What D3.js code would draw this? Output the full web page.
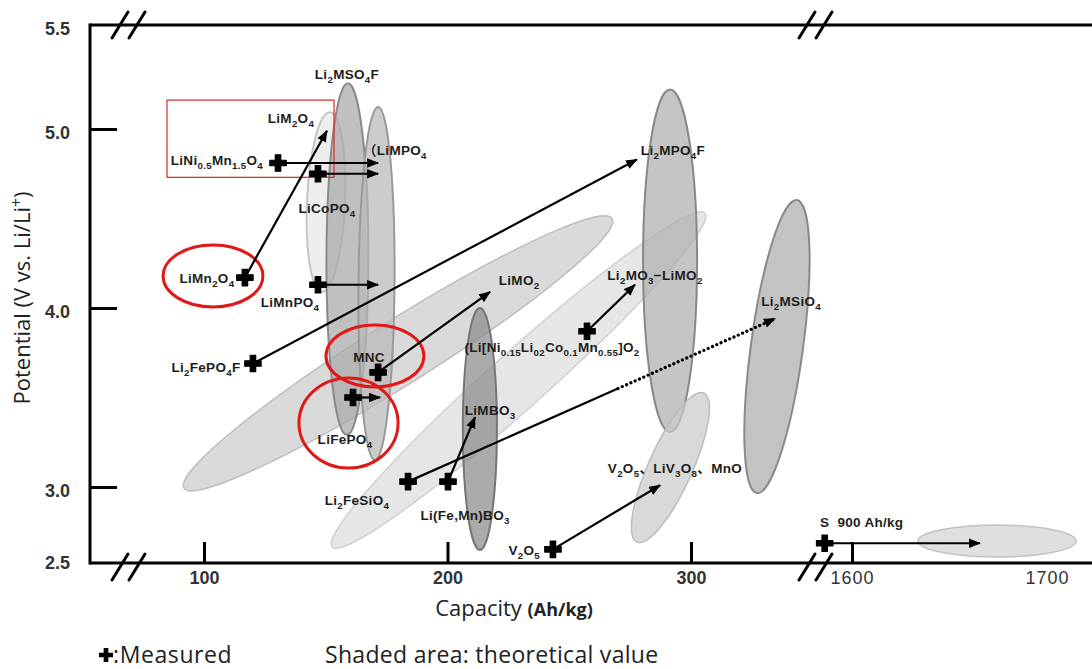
<!DOCTYPE html>
<html><head><meta charset="utf-8">
<script src="https://cdn.jsdelivr.net/npm/d3@7"></script>
<style>
html,body{margin:0;padding:0;background:#fff;}
svg{display:block;}
</style></head><body>
<svg id="chart" width="1092" height="669"></svg>
<script>
// ================= DATA =================
const yTicks = [2.5, 3.0, 4.0, 5.0, 5.5];
const xTicksLow = [100, 200, 300];
const xTicksHigh = [1600, 1700];

// theoretical ranges (shaded areas): major axis end points (capacity Ah/kg, potential V) and half width (Ah/kg)
const shadeNames    = ["LiMO2", "Li2MO3-LiMO2", "LiM2O4", "Li2MSO4F", "LiMPO4", "LiMBO3", "Li2MPO4F", "V2O5-LiV3O8-MnO", "Li2MSiO4", "S"];
const shadeCapA     = [91.8, 152.6, 151.7, 159.1, 171.5, 213.3, 291.4, 277.8, 343.5, 1633.8];
const shadeVoltA    = [2.993, 2.605, 5.08, 5.22, 5.106, 4.00, 5.19, 2.638, 4.603, 2.645];
const shadeCapB     = [267.6, 305.7, 148.5, 158.7, 170.2, 213.3, 291.4, 305.3, 327.1, 1714.9];
const shadeVoltB    = [4.50, 4.53, 4.09, 3.29, 3.15, 2.586, 3.307, 3.525, 2.96, 2.645];
const shadeHalfWidth= [13.1, 11.5, 7.8, 8.6, 7.4, 7.0, 11.1, 9.0, 10.7, 8.2];

// measured values and arrows toward expected values
const measuredNames = ["LiNi0.5Mn1.5O4", "LiCoPO4", "LiMn2O4", "LiMnPO4", "Li2FePO4F", "MNC", "LiFePO4", "Li2FeSiO4", "Li(Fe,Mn)BO3", "V2O5", "Li[Ni0.15Li0.2Co0.1Mn0.55]O2", "S"];
const measuredCap   = [130.4, 146.8, 116.8, 146.8, 120.1, 171.5, 161.2, 183.8, 200.2, 243.3, 257.3, 1586.0];
const measuredVolt  = [4.81, 4.75, 4.17, 4.13, 3.69, 3.64, 3.50, 3.03, 3.03, 2.59, 3.87, 2.63];
const expectedCap   = [171.5, 171.5, 150.5, 171.5, 277.8, 217.5, 172.3, 334.5, 211.3, 287.3, 277.0, 1665.6];
const expectedVolt  = [4.81, 4.75, 4.99, 4.13, 4.83, 4.09, 3.50, 3.94, 3.39, 3.01, 4.13, 2.63];
const dottedFromCap = [null, null, null, null, null, null, null, 270.0, null, null, null, null];
const dottedFromVolt= [null, null, null, null, null, null, null, 3.55, null, null, null, null];

// text labels: {..} = subscript, ^{..} = superscript
const labelTexts = ["Li{2}MSO{4}F", "LiM{2}O{4}", "LiNi{0.5}Mn{1.5}O{4}", "（LiMPO{4}", "LiCoPO{4}", "LiMn{2}O{4}", "LiMnPO{4}",
  "Li{2}FePO{4}F", "MNC", "LiFePO{4}", "LiMO{2}", "Li{2}MPO{4}F", "Li{2}MO{3}−LiMO{2}", "(Li[Ni{0.15}Li{02}Co{0.1}Mn{0.55}]O{2}",
  "Li{2}MSiO{4}", "LiMBO{3}", "Li{2}FeSiO{4}", "Li(Fe,Mn)BO{3}", "V{2}O{5}", "V{2}O{5}、LiV{3}O{8}、MnO", "S\u00a0\u00a0900 Ah/kg"];
const labelCap  = [158.7, 135.7, 124.2, 165.3, 150.5, 101.2, 135.3, 100.8, 167.8, 157.9, 229.4, 292.6, 285.2, 242.9, 341.1, 217.5, 162.8, 207.2, 238.0, 293.4, 1583.6];
const labelVolt = [5.264, 5.050, 4.827, 4.883, 4.559, 4.168, 4.034, 3.670, 3.726, 3.268, 4.156, 4.883, 4.184, 3.782, 4.039, 3.430, 2.914, 2.816, 2.586, 3.106, 2.770];
const labelAlign= ["middle","middle","end","start","middle","middle","middle","middle","middle","middle","middle","middle","middle","middle","middle","middle","middle","middle","end","middle","start"];

// red highlights (capacity range, potential range)
const highlightNames = ["LiMn2O4", "MNC", "LiFePO4"];
const highlightCap1  = [83.2, 150.1, 139.0];
const highlightCap2  = [124.2, 190.3, 179.7];
const highlightVolt1 = [4.352, 3.905, 3.609];
const highlightVolt2 = [4.006, 3.559, 3.106];
const boxCap  = [84.8, 153.4];
const boxVolt = [5.139, 4.73];

// ================= STYLES =================
const shadeStyle = {
  "LiMO2":          {fill:"#cccccc", stroke:"#bebebe", sw:1.5},
  "Li2MO3-LiMO2":   {fill:"#dddddd", stroke:"#d0d0d0", sw:1.5},
  "LiM2O4":         {fill:"#e8e8e8", stroke:"#c6c6c6", sw:2},
  "Li2MSO4F":       {fill:"#a8a8a8", stroke:"#8a8a8a", sw:2},
  "LiMPO4":         {fill:"#b8b8b8", stroke:"#9a9a9a", sw:2},
  "LiMBO3":         {fill:"#8a8a8a", stroke:"#767676", sw:2},
  "Li2MPO4F":       {fill:"#afafaf", stroke:"#888888", sw:2},
  "V2O5-LiV3O8-MnO":{fill:"#cacaca", stroke:"#bdbdbd", sw:1.5},
  "Li2MSiO4":       {fill:"#acacac", stroke:"#8a8a8a", sw:2},
  "S":              {fill:"#d2d2d2", stroke:"#c2c2c2", sw:1.5}
};

// ================= CHART =================
const svg = d3.select("#chart");
const frameLeft = 90, frameRight = 1092;

const xLow  = d3.scaleLinear().domain([100, 300]).range([204, 691]);
const xHigh = d3.scaleLinear().domain([1600, 1700]).range([852, 1047]);
const y = d3.scaleLinear().domain([2.5, 3, 4, 5, 5.5]).range([563, 487, 308, 129, 25]);
const X = c => c > 1000 ? xHigh(c) : xLow(c);
const pxPerCap = c => c > 1000 ? Math.abs(xHigh(1) - xHigh(0)) : Math.abs(xLow(1) - xLow(0));

const defs = svg.append("defs");
defs.append("marker").attr("id", "ah").attr("markerUnits", "userSpaceOnUse")
  .attr("markerWidth", 13).attr("markerHeight", 10).attr("refX", 11).attr("refY", 4.75)
  .attr("orient", "auto")
  .append("path").attr("d", "M0,0 L12,4.75 L0,9.5 Z").attr("fill", "#000");

// shaded areas
const gShade = svg.append("g");
shadeNames.forEach((n, i) => {
  const x1 = X(shadeCapA[i]), y1 = y(shadeVoltA[i]);
  const x2 = X(shadeCapB[i]), y2 = y(shadeVoltB[i]);
  const cx = (x1 + x2) / 2, cy = (y1 + y2) / 2;
  const rx = Math.hypot(x2 - x1, y2 - y1) / 2;
  const ry = shadeHalfWidth[i] * pxPerCap(shadeCapA[i]);
  const ang = Math.atan2(y2 - y1, x2 - x1) * 180 / Math.PI;
  const st = shadeStyle[n];
  gShade.append("ellipse")
    .attr("cx", cx).attr("cy", cy).attr("rx", rx).attr("ry", ry)
    .attr("transform", `rotate(${ang},${cx},${cy})`)
    .attr("fill", st.fill).attr("fill-opacity", 0.72)
    .attr("stroke", st.stroke).attr("stroke-width", st.sw);
});

// red box
svg.append("rect")
  .attr("x", X(boxCap[0])).attr("y", y(boxVolt[0]))
  .attr("width", X(boxCap[1]) - X(boxCap[0])).attr("height", y(boxVolt[1]) - y(boxVolt[0]))
  .attr("fill", "none").attr("stroke", "#d42a2a").attr("stroke-width", 1.2);

// red highlight ellipses
highlightNames.forEach((n, i) => {
  const xa = X(highlightCap1[i]), xb = X(highlightCap2[i]);
  const ya = y(highlightVolt1[i]), yb = y(highlightVolt2[i]);
  svg.append("ellipse")
    .attr("cx", (xa + xb) / 2).attr("cy", (ya + yb) / 2)
    .attr("rx", Math.abs(xb - xa) / 2).attr("ry", Math.abs(yb - ya) / 2)
    .attr("fill", "none").attr("stroke", "#e01818").attr("stroke-width", 3);
});

// arrows
const gArr = svg.append("g");
measuredNames.forEach((n, i) => {
  const x0 = X(measuredCap[i]), y0 = y(measuredVolt[i]);
  const x1 = X(expectedCap[i]), y1 = y(expectedVolt[i]);
  if (dottedFromCap[i] != null) {
    const xm = X(dottedFromCap[i]), ym = y(dottedFromVolt[i]);
    gArr.append("line").attr("x1", x0).attr("y1", y0).attr("x2", xm).attr("y2", ym)
      .attr("stroke", "#000").attr("stroke-width", 2.2);
    gArr.append("line").attr("x1", xm).attr("y1", ym).attr("x2", x1).attr("y2", y1)
      .attr("stroke", "#000").attr("stroke-width", 3.2).attr("stroke-dasharray", "0.1 4.6")
      .attr("stroke-linecap", "round").attr("marker-end", "url(#ah)");
  } else {
    gArr.append("line").attr("x1", x0).attr("y1", y0).attr("x2", x1).attr("y2", y1)
      .attr("stroke", "#000").attr("stroke-width", 2.2).attr("marker-end", "url(#ah)");
  }
});

// measured markers
const cross = d3.symbol().type(d3.symbolCross).size(150);
measuredNames.forEach((n, i) => {
  svg.append("path").attr("d", cross())
    .attr("transform", `translate(${X(measuredCap[i])},${y(measuredVolt[i])})`)
    .attr("fill", "#000").attr("stroke", "#000").attr("stroke-width", 1.2).attr("stroke-linejoin", "round");
});

// rich text helper
function richText(sel, str, fs) {
  const re = /(\^?)\{([^}]*)\}|([^{^]+)/g;
  let m, shift = 0;
  while ((m = re.exec(str))) {
    if (m[3] !== undefined) {
      const t = sel.append("tspan").text(m[3]);
      if (shift) { t.attr("dy", -shift); shift = 0; }
    } else {
      const d = m[1] === "^" ? -fs * 0.38 : fs * 0.3;
      sel.append("tspan").text(m[2]).attr("font-size", fs * 0.72).attr("dy", d - shift);
      shift = d;
    }
  }
}

// labels
const labFs = 13.5;
labelTexts.forEach((t, i) => {
  const txt = svg.append("text")
    .attr("x", X(labelCap[i])).attr("y", y(labelVolt[i]) + labFs * 0.35)
    .attr("text-anchor", labelAlign[i])
    .attr("font-family", "'Liberation Sans', Arial, 'Noto Sans CJK JP', sans-serif")
    .attr("font-weight", "bold").attr("font-size", labFs).attr("letter-spacing", 0.3)
    .attr("fill", "#1e1e1e");
  richText(txt, t, labFs);
});

// axes
const yAxis = d3.axisLeft(y).tickValues(yTicks).tickFormat(d3.format(".1f")).tickSize(-27).tickPadding(20);
const gy = svg.append("g").attr("transform", `translate(${frameLeft},0)`).call(yAxis);
gy.select(".domain").remove();
gy.selectAll(".tick line").attr("stroke", "#000").attr("stroke-width", 3)
  .style("display", d => (d === 2.5 || d === 5.5) ? "none" : null);
gy.selectAll(".tick text").attr("font-family", "'Liberation Sans', Arial, sans-serif")
  .attr("font-size", 18).attr("font-weight", "bold").attr("fill", "#333")
  .attr("dy", d => d === 2.5 ? "0.32em" : "0.55em");

const xAxisLow = d3.axisBottom(xLow).tickValues(xTicksLow).tickFormat(d3.format("d")).tickSize(-21).tickPadding(8);
const gxl = svg.append("g").attr("transform", `translate(0,${y(2.5)})`).call(xAxisLow);
gxl.select(".domain").remove();
gxl.selectAll(".tick line").attr("stroke", "#000").attr("stroke-width", 3);
gxl.selectAll(".tick text").attr("font-family", "'Liberation Sans', Arial, sans-serif")
  .attr("font-size", 18).attr("font-weight", "bold").attr("fill", "#333");

const xAxisHigh = d3.axisBottom(xHigh).tickValues(xTicksHigh).tickFormat(d3.format("d")).tickSize(-21).tickPadding(8);
const gxh = svg.append("g").attr("transform", `translate(0,${y(2.5)})`).call(xAxisHigh);
gxh.select(".domain").remove();
gxh.selectAll(".tick line").attr("stroke", "#000").attr("stroke-width", 3)
  .style("display", d => d === 1700 ? "none" : null);
gxh.selectAll(".tick text").attr("font-family", "'Liberation Sans', Arial, sans-serif")
  .attr("font-size", 18).attr("letter-spacing", 1).attr("fill", "#333");

// frame
const fr = svg.append("g").attr("stroke", "#000").attr("stroke-width", 3).attr("fill", "none");
fr.append("line").attr("x1", frameLeft).attr("x2", frameLeft).attr("y1", y(5.5) - 1.5).attr("y2", y(2.5) + 1.5);
fr.append("line").attr("x1", frameLeft).attr("x2", frameRight).attr("y1", y(5.5)).attr("y2", y(5.5));
fr.append("line").attr("x1", frameLeft).attr("x2", frameRight).attr("y1", y(2.5)).attr("y2", y(2.5));
// break marks
[120, 137, 807, 824].forEach(bx => {
  [y(5.5), y(2.5) + 4].forEach(by => {
    fr.append("line").attr("x1", bx - 8).attr("y1", by + 13).attr("x2", bx + 8).attr("y2", by - 13)
      .attr("stroke-linecap", "round");
  });
});

// axis titles
const yt = svg.append("text").attr("transform", "translate(30,298) rotate(-90)")
  .attr("text-anchor", "middle").attr("font-family", "'Open Sans', 'Noto Sans', sans-serif")
  .attr("font-size", 22).attr("fill", "#222");
richText(yt, "Potential (V vs. Li/Li^{+})", 22);

const xt = svg.append("text").attr("x", 514).attr("y", 616).attr("text-anchor", "middle")
  .attr("font-family", "'Open Sans', 'Noto Sans', sans-serif").attr("fill", "#222");
xt.append("tspan").attr("font-size", 22).text("Capacity ");
xt.append("tspan").attr("font-size", 18).attr("font-weight", "bold").text("(Ah/kg)");

// legend
svg.append("path").attr("d", d3.symbol().type(d3.symbolCross).size(110)())
  .attr("transform", "translate(106,655)").attr("fill", "#000");
svg.append("text").attr("x", 113).attr("y", 663)
  .attr("font-family", "'Open Sans', 'Noto Sans', sans-serif").attr("font-size", 23).attr("letter-spacing", 0.6).attr("fill", "#222")
  .text(":Measured");
svg.append("text").attr("x", 325).attr("y", 663)
  .attr("font-family", "'Open Sans', 'Noto Sans', sans-serif").attr("font-size", 23).attr("letter-spacing", 0.3).attr("fill", "#222")
  .text("Shaded area: theoretical value");
</script>
</body></html>
